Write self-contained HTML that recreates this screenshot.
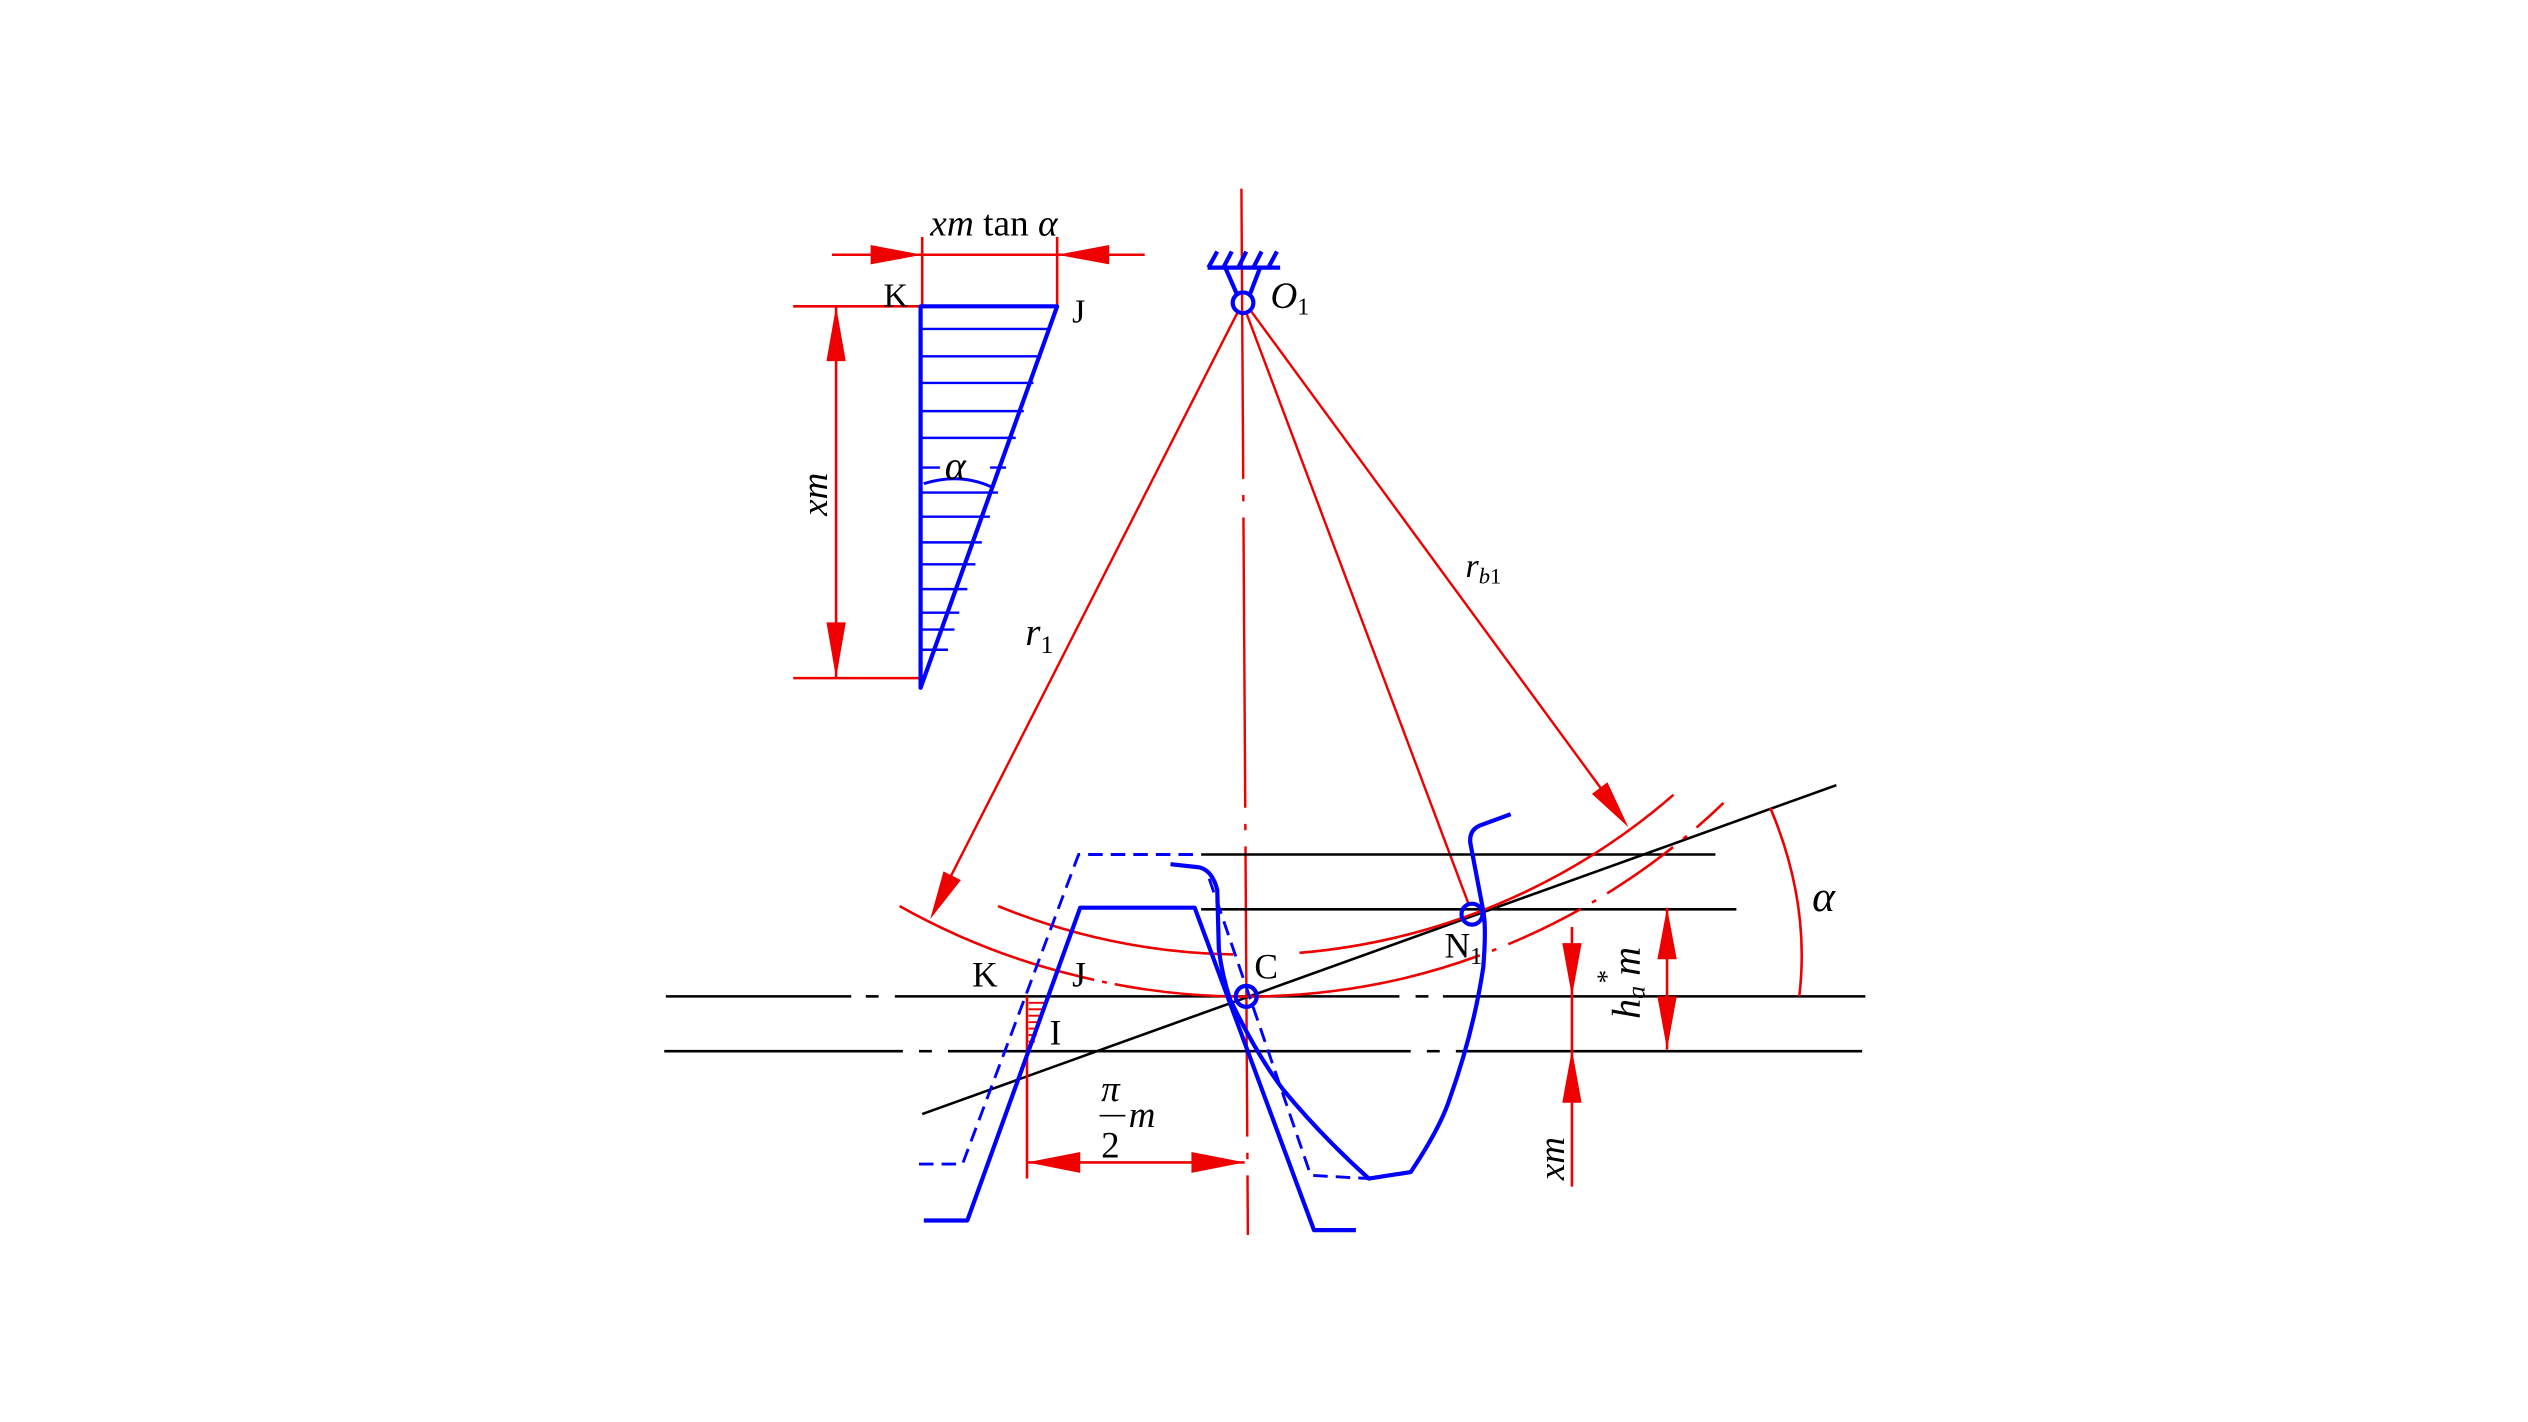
<!DOCTYPE html>
<html><head><meta charset="utf-8"><style>html,body{margin:0;padding:0;background:#fff}svg{display:block}</style></head>
<body>
<svg width="2528" height="1422" viewBox="0 0 1568 882" xmlns="http://www.w3.org/2000/svg" font-family="'Liberation Serif', serif">
<rect width="1568" height="882" fill="#fff"/>
<g stroke="#e00" stroke-width="1.6" fill="none">
<line x1="516" y1="158" x2="710" y2="158"/>
<line x1="572" y1="147" x2="572" y2="190"/>
<line x1="655.7" y1="147" x2="655.7" y2="190"/>
<line x1="492" y1="190" x2="571" y2="190"/>
<line x1="492" y1="420.6" x2="571" y2="420.6"/>
<line x1="518.6" y1="190" x2="518.6" y2="420.6"/>
</g>
<g fill="#e00">
<polygon points="572,158 540,152 540,164"/>
<polygon points="655.7,158 688,152 688,164"/>
<polygon points="518.6,190 512.6,224 524.6,224"/>
<polygon points="518.6,420.6 512.6,386 524.6,386"/>
</g>
<g stroke="#00f" stroke-width="1.5">
<line x1="571" y1="204" x2="651" y2="204"/>
<line x1="571" y1="221" x2="646" y2="221"/>
<line x1="571" y1="237.5" x2="641" y2="237.5"/>
<line x1="571" y1="255" x2="635" y2="255"/>
<line x1="571" y1="271.6" x2="630" y2="271.6"/>
<line x1="571" y1="290" x2="583" y2="290"/>
<line x1="614" y1="290" x2="624" y2="290"/>
<line x1="571" y1="305.5" x2="619" y2="305.5"/>
<line x1="571" y1="320.5" x2="614" y2="320.5"/>
<line x1="571" y1="336.4" x2="609" y2="336.4"/>
<line x1="571" y1="350" x2="605" y2="350"/>
<line x1="571" y1="365.4" x2="600" y2="365.4"/>
<line x1="571" y1="380" x2="595" y2="380"/>
<line x1="571" y1="390.5" x2="592" y2="390.5"/>
<line x1="571" y1="403" x2="588" y2="403"/>
</g>
<path d="M573,300 Q595,293 615,302" stroke="#00f" stroke-width="1.8" fill="none"/>
<polygon points="571,190 655.7,190 571,426.6" stroke="#00f" stroke-width="2.6" fill="none" stroke-linejoin="round"/>
<text x="577" y="146" font-size="23" font-style="italic" textLength="79" lengthAdjust="spacingAndGlyphs">xm<tspan font-style="normal"> tan </tspan>α</text>
<text x="548" y="190" font-size="21">K</text>
<text x="665" y="200" font-size="21">J</text>
<text x="586" y="297" font-size="25" font-style="italic">α</text>
<text transform="translate(513,320) rotate(-90)" font-size="23" font-style="italic">xm</text>

<line x1="770" y1="117" x2="774" y2="766" stroke="#e00" stroke-width="1.5" stroke-dasharray="180 10 4 10"/>
<g stroke="#e00" stroke-width="1.5">
<line x1="768" y1="193" x2="590" y2="543"/>
<line x1="773" y1="194" x2="911" y2="561"/>
<line x1="776" y1="193" x2="993" y2="489"/>
</g>
<g fill="#e00">
<polygon points="577,570 596,545.9 585.2,540.5"/>
<polygon points="1010,513 997,485.2 987.4,492.4"/>
</g>
<g stroke="#00f" stroke-width="2.6" fill="none">
<line x1="749" y1="166" x2="794" y2="166"/>
<line x1="749.5" y1="166" x2="755" y2="156"/>
<line x1="758.8" y1="166" x2="764" y2="156"/>
<line x1="768" y1="166" x2="773" y2="156"/>
<line x1="777.4" y1="166" x2="782.5" y2="156"/>
<line x1="786.7" y1="166" x2="792" y2="156"/>
<line x1="760" y1="166" x2="767" y2="182"/>
<line x1="781.6" y1="166" x2="775.5" y2="182"/>
<circle cx="771" cy="187.8" r="6.4"/>
</g>
<text x="788" y="191" font-size="23" font-style="italic">O<tspan font-size="15" font-style="normal" dy="4">1</tspan></text>
<text x="636" y="400" font-size="24" font-style="italic">r<tspan font-size="16" font-style="normal" dy="5">1</tspan></text>
<text x="909" y="358" font-size="21" font-style="italic">r<tspan font-size="14" dy="4">b</tspan><tspan font-size="14" font-style="normal">1</tspan></text>

<g stroke="#000" stroke-width="1.6" fill="none">
<line x1="413" y1="618" x2="528" y2="618"/>
<line x1="537" y1="618" x2="545" y2="618"/>
<line x1="555" y1="618" x2="868" y2="618"/>
<line x1="878" y1="618" x2="886" y2="618"/>
<line x1="895" y1="618" x2="1157" y2="618"/>
<line x1="412" y1="652" x2="560" y2="652"/>
<line x1="570" y1="652" x2="578" y2="652"/>
<line x1="588" y1="652" x2="875" y2="652"/>
<line x1="885" y1="652" x2="893" y2="652"/>
<line x1="903" y1="652" x2="1155" y2="652"/>
<line x1="745" y1="530" x2="1064" y2="530"/>
<line x1="745" y1="564" x2="1077" y2="564"/>
<line x1="572" y1="691" x2="1139" y2="487"/>
</g>
<g stroke="#e00" stroke-width="1.6" fill="none">
<path d="M558,562 A431,431 0 0 0 667,605"/>
<path d="M667,605 A431,431 0 0 0 700,612" stroke-dasharray="12 5 3 5"/>
<path d="M700,612 A431,431 0 0 0 870,607"/>
<path d="M870,607 A431,431 0 0 0 1069,498" stroke-dasharray="50 8 3 8"/>
<path d="M619,562 A405,405 0 0 0 765,592"/>
<path d="M806,591 A405,405 0 0 0 1038,493"/>
<path d="M1098,501 Q1123,560 1116,618"/>
</g>
<text x="1124" y="565" font-size="27" font-style="italic">α</text>

<g stroke="#e00" stroke-width="1.6">
<line x1="975" y1="575" x2="975" y2="736"/>
<line x1="1034" y1="563" x2="1034" y2="651"/>
<line x1="637" y1="618" x2="637" y2="731"/>
<line x1="637" y1="721" x2="772" y2="721"/>
</g>
<g fill="#e00">
<polygon points="975,618 969,585 981,585"/>
<polygon points="975,651 969,684 981,684"/>
<polygon points="1034,563 1028,595 1040,595"/>
<polygon points="1034,651 1028,618 1040,618"/>
<polygon points="637,721 670,714.5 670,727.5"/>
<polygon points="772,721 739,714.5 739,727.5"/>
</g>
<g stroke="#e00" stroke-width="1.2">
<line x1="638" y1="622" x2="648" y2="622"/>
<line x1="638" y1="626" x2="647" y2="626"/>
<line x1="638" y1="630" x2="646" y2="630"/>
<line x1="638" y1="634" x2="645" y2="634"/>
<line x1="638" y1="638" x2="644" y2="638"/>
<line x1="638" y1="642" x2="643" y2="642"/>
<line x1="638" y1="646" x2="642" y2="646"/>
</g>
<text transform="translate(970,732) rotate(-90)" font-size="23" font-style="italic">xm</text>
<text transform="translate(1017,632) rotate(-90)" font-size="25" font-style="italic">h<tspan font-size="16" dy="3">a</tspan><tspan dy="-3"> m</tspan></text>
<text transform="translate(1002,610) rotate(-90)" font-size="17">*</text>
<text x="683" y="683" font-size="23" font-style="italic">π</text>
<line x1="682" y1="692" x2="698" y2="692" stroke="#000" stroke-width="1"/>
<text x="683" y="718" font-size="23">2</text>
<text x="700" y="699" font-size="23" font-style="italic">m</text>

<g stroke="#00f" stroke-width="2.6" fill="none" stroke-linejoin="round">
<polyline points="573,757 600,757 670,563 741,563 815,763 841,763"/>
<polyline points="570,722 597,722 669,530 741,530" stroke-width="1.8" stroke-dasharray="9 5"/>
<polyline points="750,545 813,729 849,731" stroke-width="1.8" stroke-dasharray="9 5"/>
<path d="M726,536 L744,538 Q752,540 755,552 L756,589 Q758,605 763,620 Q780,655 796,676 Q820,705 849,731 L875,727 Q893,700 899,682 Q914,640 920,600 Q922,575 920,565 L912,523 Q911,515 918,512 L937,505"/>
<circle cx="773" cy="618" r="6.5"/>
<circle cx="913" cy="567" r="6.5"/>
</g>
<text x="778" y="607" font-size="22">C</text>
<text x="896" y="594" font-size="22">N<tspan font-size="15" dy="4">1</tspan></text>
<text x="603" y="612" font-size="22">K</text>
<text x="665" y="612" font-size="22">J</text>
<text x="651" y="648" font-size="22">I</text>
</svg>
</body></html>
